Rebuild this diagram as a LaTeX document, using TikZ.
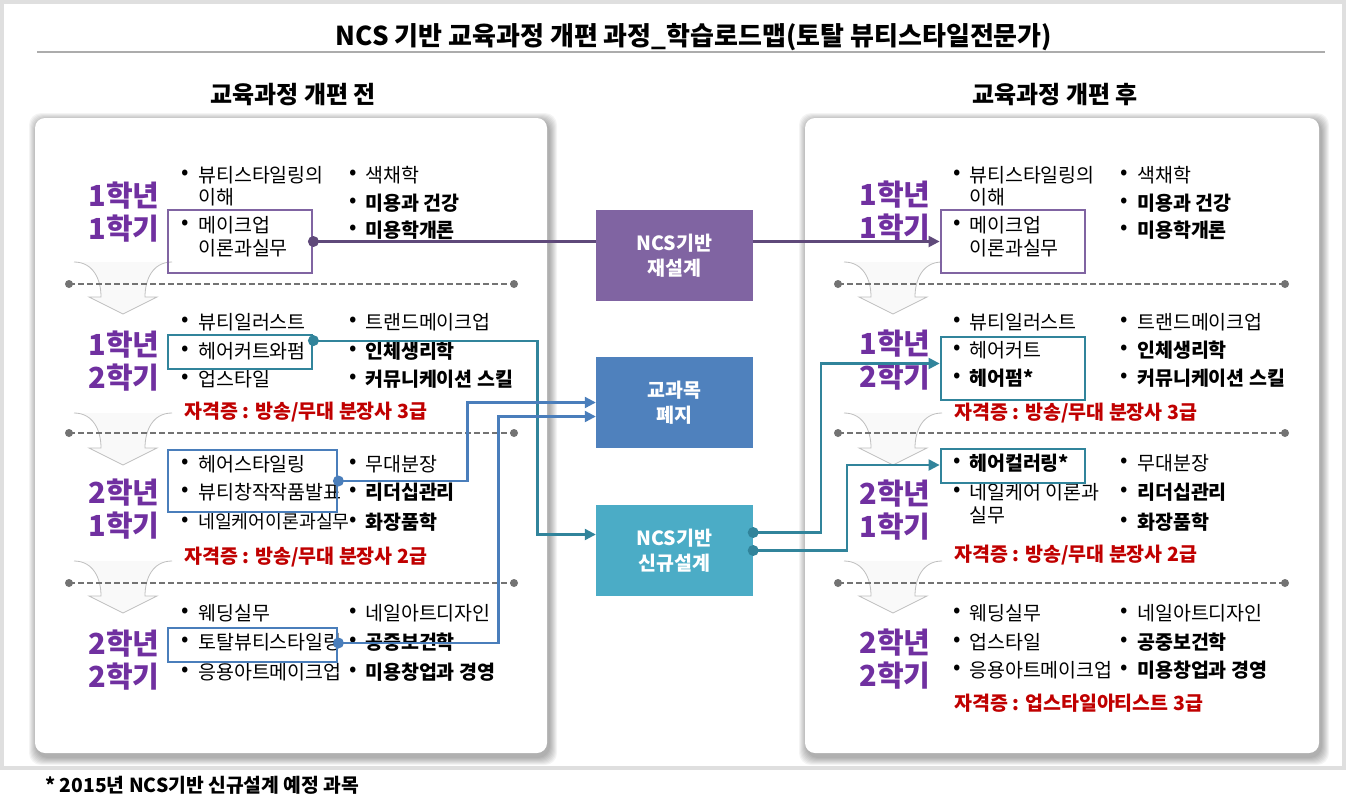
\documentclass[tikz,border=0pt]{standalone}
\usepackage{fontspec}
\setmainfont{Noto Sans CJK KR}
\usetikzlibrary{arrows.meta}
\definecolor{pur}{HTML}{7030A0}
\definecolor{boxpur}{HTML}{8064A2}
\definecolor{linepur}{HTML}{5F497A}
\definecolor{tealc}{HTML}{31849B}
\definecolor{bluec}{HTML}{4A7EBB}
\definecolor{fillblue}{HTML}{4F81BD}
\definecolor{fillcyan}{HTML}{4BACC6}
\definecolor{redc}{HTML}{C00000}
\newcommand\itemL[6]{\node[bul] (#1b) at (#2,#4) {•}; \node[#5] (#1) at (#3,#4) {#6};}
\newcommand\chev[2]{\begin{scope}[shift={(#1,#2)}]
\filldraw[fill=gray!5,draw=gray!50,line width=0.8pt] (-49,-52) .. controls (-30,-52) and (-22,-35) .. (-22,-17) -- (-34,-17) -- (0,0) -- (34,-17) -- (22,-17) .. controls (22,-35) and (30,-52) .. (49,-52);
\end{scope}}
\newcommand\sepline[3]{\draw[gray!90!black,line width=1.5pt,dash pattern=on 6pt off 3pt] (#1,#3) -- (#2,#3);
\fill[gray!90!black] (#1,#3) circle (4pt) (#2,#3) circle (4pt);}
\newcommand\panel[4]{%
\foreach \i in {1,...,8} \fill[black,opacity=0.045,rounded corners=12pt] ({#1-\i+2},{#2-\i+3}) rectangle ({#3+\i+2},{#4+\i+4});
\fill[white,rounded corners=10pt] (#1,#2) rectangle (#3,#4);}
\tikzset{
 it/.style={anchor=west,inner sep=0pt,font=\fontsize{19.5}{22}\selectfont},
 itn/.style={anchor=west,inner sep=0pt,font=\fontsize{18.3}{22}\selectfont},
 itb/.style={anchor=west,inner sep=0pt,font=\fontsize{19.5}{22}\selectfont\bfseries},
 bul/.style={inner sep=0pt,font=\fontsize{22}{24}\selectfont},
 sem/.style={align=center,inner sep=0pt,text=pur,font=\fontsize{29}{33}\selectfont\bfseries},
 cert/.style={anchor=west,inner sep=0pt,text=redc,font=\fontsize{19.5}{22}\selectfont\bfseries},
 hbox/.style={draw,line width=2.8pt,inner sep=0pt},
 cbox/.style={minimum width=157pt,minimum height=91pt,inner sep=0pt,align=center,text=white,font=\fontsize{19.5}{25}\selectfont\bfseries},
 dotc/.style={circle,inner sep=0pt,minimum size=11pt},
 conn/.style={line width=2.2pt},
 tip/.style={-{Triangle[length=11pt,width=11pt]}},
}
\begin{document}
\begin{tikzpicture}[x=1pt,y=-1pt]
\fill[white] (0,0) rectangle (1351,798);
\useasboundingbox (0,0) rectangle (1351,798);
\draw[gray!25,line width=4pt] (2,2) rectangle (1344,768);

% title
\node[font=\fontsize{26}{30}\selectfont\bfseries] (title) at (694,37) {NCS 기반 교육과정 개편 과정\_학습로드맵(토탈 뷰티스타일전문가)};
\draw[gray!65,line width=2pt] (37,52) -- (1325,52);
\node[font=\fontsize{24}{28}\selectfont\bfseries] (hl) at (293,95) {교육과정 개편 전};
\node[font=\fontsize{24}{28}\selectfont\bfseries] (hr) at (1055,95) {교육과정 개편 후};

% panels
\panel{35}{118}{547}{753}
\panel{805}{118}{1319}{753}

% chevrons
\chev{123}{314}\chev{123}{465}\chev{123}{613}
\chev{893}{314}\chev{893}{465}\chev{893}{613}

% separators
\sepline{69}{514}{284}\sepline{69}{514}{433}\sepline{69}{514}{583}
\sepline{838}{1285}{284}\sepline{838}{1285}{433}\sepline{838}{1285}{583}

% semester labels
\node[sem] (s1) at (124,212) {1학년\\1학기};
\node[sem] (s2) at (124,361) {1학년\\2학기};
\node[sem] (s3) at (124,509) {2학년\\1학기};
\node[sem] (s4) at (124,660) {2학년\\2학기};
\node[sem] (t1) at (895,211) {1학년\\1학기};
\node[sem] (t2) at (895,360) {1학년\\2학기};
\node[sem] (t3) at (895,510) {2학년\\1학기};
\node[sem] (t4) at (895,659) {2학년\\2학기};

% left items
\itemL{la1}{185.5}{198}{175}{it}{뷰티스타일링의}
\node[it] (la1x) at (198,197) {이해};
\itemL{la2}{185.5}{198}{225}{it}{메이크업}
\node[it] (la2x) at (198,248) {이론과실무};
\itemL{lb1}{353}{365}{175}{it}{색채학}
\itemL{lb2}{353}{365}{203}{itb}{미용과 건강}
\itemL{lb3}{353}{365}{230}{itb}{미용학개론}

\itemL{lc1}{185.5}{198}{322}{it}{뷰티일러스트}
\itemL{lc2}{185.5}{198}{351}{it}{헤어커트와펌}
\itemL{lc3}{185.5}{198}{379}{it}{업스타일}
\itemL{ld1}{353}{365}{322}{it}{트랜드메이크업}
\itemL{ld2}{353}{365}{351}{itb}{인체생리학}
\itemL{ld3}{353}{365}{379}{itb}{커뮤니케이션 스킬}
\node[cert] (lcert1) at (184,412) {자격증 : 방송/무대 분장사 3급};

\itemL{le1}{185.5}{198}{464}{it}{헤어스타일링}
\itemL{le2}{185.5}{198}{492}{it}{뷰티창작작품발표}
\itemL{le3}{185.5}{198}{522}{itn}{네일케어이론과실무}
\itemL{lf1}{353}{365}{464}{it}{무대분장}
\itemL{lf2}{353}{365}{492}{itb}{리더십관리}
\itemL{lf3}{353}{365}{522}{itb}{화장품학}
\node[cert] (lcert2) at (184,557) {자격증 : 방송/무대 분장사 2급};

\itemL{lg1}{185.5}{198}{613}{it}{웨딩실무}
\itemL{lg2}{185.5}{198}{642}{it}{토탈뷰티스타일링}
\itemL{lg3}{185.5}{198}{672}{it}{응용아트메이크업}
\itemL{lh1}{353}{365}{613}{it}{네일아트디자인}
\itemL{lh2}{353}{365}{642}{itb}{공중보건학}
\itemL{lh3}{353}{365}{672}{itb}{미용창업과 경영}

% right items
\itemL{ra1}{957}{969}{175}{it}{뷰티스타일링의}
\node[it] (ra1x) at (969,197) {이해};
\itemL{ra2}{957}{969}{225}{it}{메이크업}
\node[it] (ra2x) at (969,248) {이론과실무};
\itemL{rb1}{1124}{1137}{175}{it}{색채학}
\itemL{rb2}{1124}{1137}{203}{itb}{미용과 건강}
\itemL{rb3}{1124}{1137}{230}{itb}{미용학개론}

\itemL{rc1}{957}{969}{322}{it}{뷰티일러스트}
\itemL{rc2}{957}{969}{350}{it}{헤어커트}
\itemL{rc3}{957}{969}{378}{itb}{헤어펌*}
\itemL{rd1}{1124}{1137}{322}{it}{트랜드메이크업}
\itemL{rd2}{1124}{1137}{350}{itb}{인체생리학}
\itemL{rd3}{1124}{1137}{378}{itb}{커뮤니케이션 스킬}
\node[cert] (rcert1) at (954,413) {자격증 : 방송/무대 분장사 3급};

\itemL{re1}{957}{969}{463}{itb}{헤어컬러링*}
\itemL{re2}{957}{969}{492}{it}{네일케어 이론과}
\node[it] (re2x) at (969,515) {실무};
\itemL{rf1}{1124}{1137}{463}{it}{무대분장}
\itemL{rf2}{1124}{1137}{492}{itb}{리더십관리}
\itemL{rf3}{1124}{1137}{522}{itb}{화장품학}
\node[cert] (rcert2) at (954,555) {자격증 : 방송/무대 분장사 2급};

\itemL{rg1}{957}{969}{613}{it}{웨딩실무}
\itemL{rg2}{957}{969}{642}{it}{업스타일}
\itemL{rg3}{957}{969}{670}{it}{응용아트메이크업}
\itemL{rh1}{1124}{1137}{613}{it}{네일아트디자인}
\itemL{rh2}{1124}{1137}{642}{itb}{공중보건학}
\itemL{rh3}{1124}{1137}{670}{itb}{미용창업과 경영}
\node[cert] (rcert3) at (954,703) {자격증 : 업스타일아티스트 3급};

% highlight boxes
\node[hbox,draw=boxpur,minimum width=144pt,minimum height=63pt] (L1b) at (240,241.5) {};
\node[hbox,draw=tealc,minimum width=144pt,minimum height=34pt] (L2b) at (240,352) {};
\node[hbox,draw=bluec,minimum width=169pt,minimum height=62pt] (L3b) at (252.5,481) {};
\node[hbox,draw=bluec,minimum width=169pt,minimum height=34pt] (L4b) at (252.5,645) {};
\node[hbox,draw=boxpur,minimum width=144pt,minimum height=63pt] (R1b) at (1013,241.5) {};
\node[hbox,draw=tealc,minimum width=144pt,minimum height=63pt] (R2b) at (1013,368.5) {};
\node[hbox,draw=tealc,minimum width=144pt,minimum height=34pt] (R3b) at (1013,466) {};

% centre boxes
\node[cbox,fill=boxpur] (C1) at (674.5,255.5) {NCS기반\\재설계};
\node[cbox,fill=fillblue] (C2) at (674.5,402.5) {교과목\\폐지};
\node[cbox,fill=fillcyan] (C3) at (674.5,550.5) {NCS기반\\신규설계};

% connectors
\node[dotc,fill=linepur] (d1) at (L1b.east) {};
\draw[conn,linepur] (d1.center) -- (d1.center -| C1.west);
\draw[conn,linepur,tip] (C1.east |- R1b.west) -- (R1b.west);

\node[dotc,fill=tealc] (d2) at ([yshift=-7pt]L2b.north east) {};
\draw[conn,tealc,tip] (d2.center) -- ++(224,0) |- ([yshift=16pt]C3.west);

\node[dotc,fill=bluec] (d3) at (L3b.east) {};
\draw[conn,bluec,tip] (d3.center) -- ++(129,0) |- (C2.west);

\node[dotc,fill=bluec] (d4) at ([yshift=2pt]L4b.east) {};
\draw[conn,bluec,tip] (d4.center) -- ++(160,0) |- ([yshift=-14pt]C2.west);

\node[dotc,fill=tealc] (e1) at ([yshift=18pt]C3.east) {};
\node[dotc,fill=tealc] (e2) at (C3.east) {};
\draw[conn,tealc,tip] (e1.center) -- ++(68,0) |- ([yshift=5pt]R2b.west);
\draw[conn,tealc,tip] (e2.center) -- ++(94,0) |- ([yshift=1pt]R3b.west);

% footnote
\node[anchor=west,inner sep=0pt,font=\fontsize{19.3}{22}\selectfont\bfseries] (foot) at (45,785) {* 2015년 NCS기반 신규설계 예정 과목};
\end{tikzpicture}
\end{document}
